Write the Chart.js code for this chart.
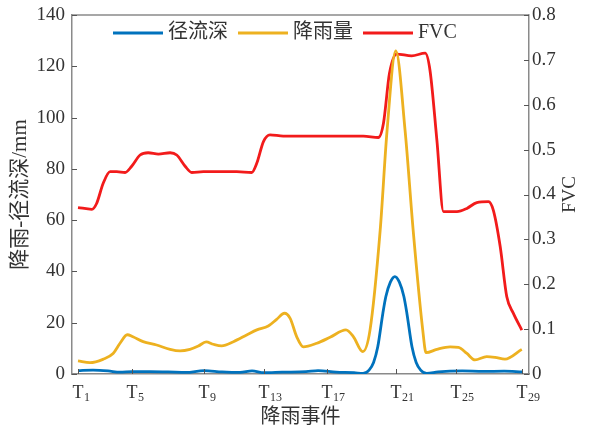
<!DOCTYPE html>
<html>
<head>
<meta charset="utf-8">
<script src="https://cdn.jsdelivr.net/npm/chart.js@4.4.1/dist/chart.umd.min.js"></script>
<style>
  html, body { margin: 0; padding: 0; background: #ffffff; }
  #wrap { width: 592px; height: 432px; }
</style>
</head>
<body>
<div id="wrap"><canvas id="c" width="592" height="432"></canvas></div>
<script>
// Rain events: day position of the labelled events along the season
const eventTickDay = [0, 18, 42, 62, 83, 106, 126, 148];
const eventTickNum = [1, 5, 9, 13, 17, 21, 25, 29];

// 径流深 (runoff depth, mm)
const runoffDay = [0, 5, 10, 14, 18, 24, 30, 36, 42, 48, 54, 58, 62, 68, 76, 80, 86, 92, 95, 97,
  98.5, 99.9, 101.6, 102.6, 104.1, 105.6, 107.1, 108.6, 109.6, 111.3, 112.7, 114.2, 116.2, 120, 128, 135, 142, 148];
const runoffMm = [1.3, 1.5, 1.2, 0.7, 0.9, 0.9, 0.8, 0.6, 1.3, 0.8, 0.6, 1.2, 0.5, 0.7, 0.9, 1.3, 0.7, 0.5, 0.2, 1.5,
  4.5, 10.6, 23.7, 30.2, 35.8, 38, 35.8, 30.2, 23.7, 10.6, 4.5, 1.5, 0.2, 0.8, 1.2, 1.0, 1.1, 0.8];

// 降雨量 (rainfall, mm)
const rainDay = [0, 4, 8.3, 11.7, 14, 16.4, 18.3, 21.7, 26.2, 30.7, 34, 37.3, 40.1, 42.7, 45.1, 47.9,
  51.8, 56.2, 59.6, 63.4, 66.2, 68.8, 70.7, 72.9, 75.1, 79.6, 84, 89.3, 91.8, 94.9, 97.3, 100.7, 103,
  105.9, 109, 111.7, 114.9, 116, 119.6, 124, 126.8, 129.6, 132.3, 136.2, 139, 142.3, 147.9];
const rainMm = [5.1, 4.4, 5.7, 8, 12, 15.3, 14.5, 12.6, 11.3, 9.6, 9.0, 9.6, 10.9, 12.5, 11.6, 11.0,
  12.6, 15.2, 17.2, 18.7, 21.3, 23.7, 21.7, 14.5, 10.6, 12, 14.3, 17.2, 14.5, 8.7, 17, 56, 95,
  126, 95, 56, 17, 8.3, 9.6, 10.6, 10.4, 8.0, 5.5, 6.8, 6.5, 5.8, 9.6];

// FVC (fractional vegetation cover)
const fvcDay = [0, 4.6, 6.2, 8.4, 10.7, 12.9, 15.7, 17.9, 20.7, 23.4, 26.8, 30.7, 32.9, 35.7, 37.9,
  41.8, 52.9, 57.9, 59.6, 61.8, 64, 68.4, 95.1, 100.1, 101.8, 103.8, 106.2, 111.2, 115.7, 117.3,
  119.6, 121.8, 126.3, 129.6, 132.9, 136.8, 138.4, 140.7, 142.9, 145.1, 147.9];
const fvcValue = [0.371, 0.367, 0.380, 0.425, 0.451, 0.451, 0.449, 0.463, 0.488, 0.493, 0.490, 0.493,
  0.488, 0.463, 0.449, 0.451, 0.451, 0.449, 0.470, 0.518, 0.533, 0.530, 0.530, 0.527, 0.559, 0.670,
  0.713, 0.709, 0.715, 0.677, 0.521, 0.362, 0.362, 0.369, 0.382, 0.384, 0.365, 0.284, 0.172, 0.135, 0.098];

const FONT = "'Liberation Serif', 'Noto Sans CJK SC', serif";
const TEXT = '#333333';
const AXIS = '#8a8a8a';
const TICK = '#555555';

const pts = (xs, ys) => xs.map((x, i) => ({ x: x, y: ys[i] }));

// Inward ticks, top frame line, subscripted event labels, legend and right title
const decor = {
  id: 'decor',
  afterDraw(chart) {
    const { ctx, chartArea: a, scales } = chart;
    const seg = (x1, y1, x2, y2) => { ctx.beginPath(); ctx.moveTo(x1, y1); ctx.lineTo(x2, y2); ctx.stroke(); };
    ctx.save();
    ctx.strokeStyle = AXIS;
    ctx.lineWidth = 1.5;
    seg(a.left, a.top, a.right, a.top);

    ctx.strokeStyle = TICK;
    ctx.lineWidth = 1;
    scales.y.ticks.forEach(t => { const p = Math.round(scales.y.getPixelForValue(t.value)) + 0.5; seg(a.left, p, a.left + 5, p); });
    scales.y1.ticks.forEach(t => { const p = Math.round(scales.y1.getPixelForValue(t.value)) + 0.5; seg(a.right - 5, p, a.right, p); });
    eventTickDay.forEach(d => { const p = Math.round(scales.x.getPixelForValue(d)) + 0.5; seg(p, a.bottom, p, a.bottom - 5); });

    // event labels T with subscript number
    ctx.fillStyle = TEXT;
    eventTickDay.forEach((d, i) => {
      const x = scales.x.getPixelForValue(d);
      ctx.font = '18px ' + FONT;
      ctx.textAlign = 'center';
      ctx.textBaseline = 'alphabetic';
      ctx.fillText('T', x, a.bottom + 24);
      const w = ctx.measureText('T').width;
      ctx.font = '12px ' + FONT;
      ctx.textAlign = 'left';
      ctx.fillText(String(eventTickNum[i]), x + w / 2 + 0.5, a.bottom + 27);
    });

    // legend
    ctx.font = '20px ' + FONT;
    ctx.textAlign = 'left';
    ctx.textBaseline = 'middle';
    let x = a.left + 41;
    const y = a.top + 18;
    chart.data.datasets.forEach(ds => {
      ctx.strokeStyle = ds.borderColor;
      ctx.lineWidth = 3;
      seg(x, y, x + 50, y);
      x += 55;
      ctx.fillStyle = TEXT;
      ctx.fillText(ds.label, x, y);
      x += ctx.measureText(ds.label).width + 10;
    });

    // right axis title, reading bottom to top
    ctx.save();
    ctx.translate(a.right + 41, (a.top + a.bottom) / 2);
    ctx.rotate(-Math.PI / 2);
    ctx.font = '19px ' + FONT;
    ctx.textAlign = 'center';
    ctx.textBaseline = 'middle';
    ctx.fillStyle = TEXT;
    ctx.fillText('FVC', 0, 0);
    ctx.restore();

    ctx.restore();
  }
};

const fitY = width => s => { s.width = width; s.paddingTop = 0; s.paddingBottom = 0; };

new Chart(document.getElementById('c'), {
  type: 'line',
  data: {
    datasets: [
      { label: '径流深', data: pts(runoffDay, runoffMm), yAxisID: 'y', borderColor: '#0072BD', order: 1 },
      { label: '降雨量', data: pts(rainDay, rainMm), yAxisID: 'y', borderColor: '#EDB120', order: 2 },
      { label: 'FVC', data: pts(fvcDay, fvcValue), yAxisID: 'y1', borderColor: '#F21B1B', order: 3 }
    ]
  },
  options: {
    responsive: false,
    animation: false,
    devicePixelRatio: 1,
    layout: { padding: { top: 15, left: 0, right: 0, bottom: 0 } },
    elements: {
      line: { borderWidth: 2.8, cubicInterpolationMode: 'monotone', fill: false },
      point: { radius: 0 }
    },
    plugins: { legend: { display: false }, tooltip: { enabled: false } },
    scales: {
      x: {
        type: 'linear',
        min: -2,
        max: 150.3,
        grid: { display: false, drawTicks: false },
        border: { display: true, color: AXIS, width: 1.5 },
        ticks: { display: false },
        afterBuildTicks: s => { s.ticks = eventTickDay.map(v => ({ value: v })); },
        afterFit: s => { s.height = 58; s.paddingLeft = 0; s.paddingRight = 0; },
        title: { display: true, text: '降雨事件', color: TEXT, font: { family: FONT, size: 20 }, padding: { top: 0, bottom: 2 } }
      },
      y: {
        position: 'left',
        min: 0,
        max: 140,
        grid: { display: false, drawTicks: false },
        border: { display: true, color: AXIS, width: 1.5 },
        ticks: { stepSize: 20, padding: 7, color: TEXT, font: { family: FONT, size: 19 } },
        afterFit: fitY(72),
        title: { display: true, text: '降雨-径流深/mm', color: TEXT, font: { family: FONT, size: 21 }, padding: { top: 8, bottom: 0 } }
      },
      y1: {
        position: 'right',
        min: 0,
        max: 0.8,
        grid: { display: false, drawTicks: false },
        border: { display: true, color: AXIS, width: 1.5 },
        ticks: { stepSize: 0.1, padding: 3, color: TEXT, font: { family: FONT, size: 19 } },
        afterFit: fitY(63)
      }
    }
  },
  plugins: [decor]
});
</script>
</body>
</html>
